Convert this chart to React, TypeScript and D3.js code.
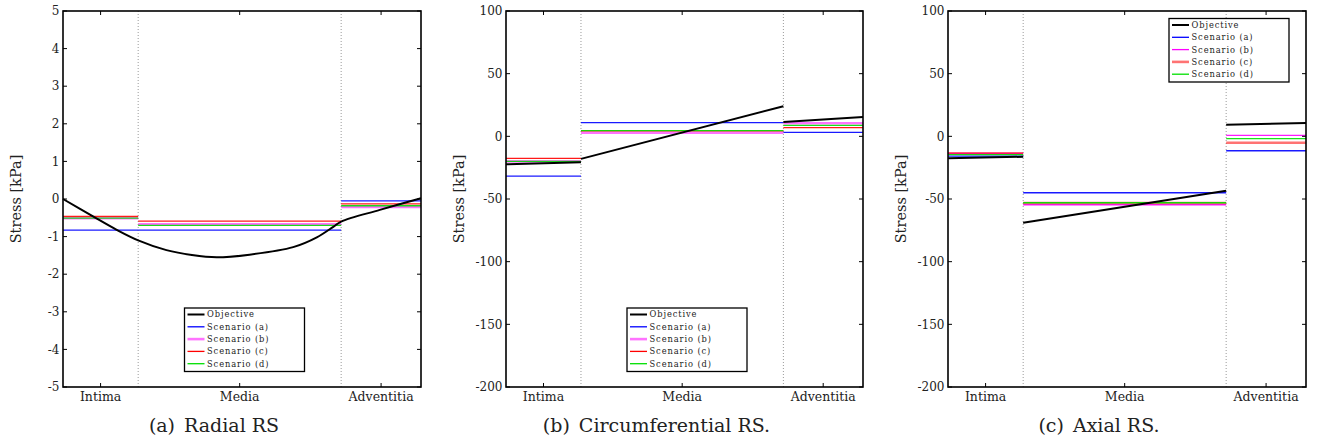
import React from 'react';
import * as d3 from 'd3';

// Wall layers and the normalised radial position of their interfaces
const layerNames = ['Intima', 'Media', 'Adventitia'];
const interfaces = [0, 0.21, 0.777, 1];
const scenarioNames = ['Scenario (a)', 'Scenario (b)', 'Scenario (c)', 'Scenario (d)'];

// Tick labels
const radialTicks = [-5, -4, -3, -2, -1, 0, 1, 2, 3, 4, 5];
const stressTicks = [-200, -150, -100, -50, 0, 50, 100];

// Radial residual stress [kPa]: objective profile (position, stress)
const radialObjective: [number, number][] = [
  [0, 0], [0.085, -0.47], [0.15, -0.82], [0.21, -1.1], [0.289, -1.36], [0.36, -1.49],
  [0.429, -1.55], [0.521, -1.48], [0.643, -1.28], [0.709, -1.02], [0.755, -0.74],
  [0.777, -0.6], [0.885, -0.29], [1, 0.02],
];
// Layer-wise constant scenario values: [intima, media, adventitia]
const radialA = [-0.83, -0.83, -0.05];
const radialB = [-0.51, -0.67, -0.21];
const radialC = [-0.46, -0.59, -0.13];
const radialD = [-0.51, -0.7, -0.18];

// Circumferential residual stress [kPa]
const circObjIntima: [number, number][] = [[0, -22.3], [0.21, -20.7]];
const circObjMedia: [number, number][] = [[0.21, -18.0], [0.777, 24.0]];
const circObjAdventitia: [number, number][] = [[0.777, 11.5], [1, 15.5]];
const circA = [-31.7, 11.0, 3.2];
const circB = [-20.0, 2.9, 10.4];
const circC = [-17.6, 4.3, 6.9];
const circD = [-20.0, 4.5, 8.8];

// Axial residual stress [kPa]
const axialObjIntima: [number, number][] = [[0, -17.4], [0.21, -16.3]];
const axialObjMedia: [number, number][] = [[0.21, -68.9], [0.777, -43.4]];
const axialObjAdventitia: [number, number][] = [[0.777, 9.3], [1, 10.6]];
const axialA = [-15.8, -45.0, -11.5];
const axialB = [-13.6, -54.6, 0.8];
const axialC = [-13.6, -53.2, -5.1];
const axialD = [-14.6, -53.0, -1.9];

const TOP = 11;
const BOTTOM = 387;
const FONT = '"DejaVu Serif", serif';
const scenarioColors = ['#0000ff', '#ff00ff', '#ff0000', '#00e000'];

type Panel = {
  tag: string;
  caption: string;
  left: number;
  right: number;
  yDomain: [number, number];
  ticks: number[];
  objective: [number, number][][];
  scenarios: number[][];
  legend: { x: number; y: number };
  soft: number; // series drawn with a wider, lighter pen
};

const panels: Panel[] = [
  {
    tag: '(a)', caption: 'Radial RS', left: 63, right: 421, yDomain: [-5, 5], ticks: radialTicks,
    objective: [radialObjective], scenarios: [radialA, radialB, radialC, radialD],
    legend: { x: 184.5, y: 308 }, soft: 1,
  },
  {
    tag: '(b)', caption: 'Circumferential RS.', left: 506, right: 863, yDomain: [-200, 100], ticks: stressTicks,
    objective: [circObjIntima, circObjMedia, circObjAdventitia], scenarios: [circA, circB, circC, circD],
    legend: { x: 627, y: 308 }, soft: 1,
  },
  {
    tag: '(c)', caption: 'Axial RS.', left: 948, right: 1306, yDomain: [-200, 100], ticks: stressTicks,
    objective: [axialObjIntima, axialObjMedia, axialObjAdventitia], scenarios: [axialA, axialB, axialC, axialD],
    legend: { x: 1169, y: 18.5 }, soft: 2,
  },
];

function StressPanel({ p }: { p: Panel }) {
  const x = d3.scaleLinear().domain([0, 1]).range([p.left, p.right]);
  const y = d3.scaleLinear().domain(p.yDomain).range([BOTTOM, TOP]);
  const line = d3.line<[number, number]>().x((d) => x(d[0])).y((d) => y(d[1])).curve(d3.curveCatmullRom.alpha(0.5));
  const centers = layerNames.map((_, i) => (interfaces[i] + interfaces[i + 1]) / 2);
  const tickLen = 4;
  const mid = (p.left + p.right) / 2;

  const legendRows = ['Objective', ...scenarioNames];
  const legendColors = ['#000000', ...scenarioColors];

  return (
    <g>
      <rect x={p.left} y={TOP} width={p.right - p.left} height={BOTTOM - TOP} fill="#ffffff" />
      {/* layer interfaces */}
      {interfaces.slice(1, -1).map((t, i) => (
        <line key={'iface' + i} x1={x(t)} x2={x(t)} y1={TOP} y2={BOTTOM}
          stroke="#9a9a9a" strokeWidth={1} strokeDasharray="1,2" />
      ))}
      {/* scenarios: constant value within each layer */}
      {p.scenarios.map((vals, s) =>
        vals.map((v, l) => (
          <line key={`s${s}-${l}`} x1={x(interfaces[l])} x2={x(interfaces[l + 1])} y1={y(v)} y2={y(v)}
            stroke={scenarioColors[s]} strokeWidth={s === p.soft ? 2.6 : 1.3}
            strokeOpacity={s === p.soft ? 0.55 : 0.9} />
        ))
      )}
      {/* objective profile */}
      {p.objective.map((seg, i) => (
        <path key={'obj' + i} d={line(seg) || ''} fill="none" stroke="#000" strokeWidth={2} />
      ))}
      {/* axes box */}
      <rect x={p.left} y={TOP} width={p.right - p.left} height={BOTTOM - TOP} fill="none" stroke="#000" strokeWidth={1.6} />
      {p.ticks.map((t) => (
        <g key={'yt' + t}>
          <line x1={p.left} x2={p.left + tickLen} y1={y(t)} y2={y(t)} stroke="#000" strokeWidth={1} />
          <line x1={p.right} x2={p.right - tickLen} y1={y(t)} y2={y(t)} stroke="#000" strokeWidth={1} />
          <text x={p.left - 3.5} y={y(t)} dy="0.35em" textAnchor="end" fontFamily={FONT} fontSize={12} fill="#222">
            {String(t)}
          </text>
        </g>
      ))}
      {centers.map((c, i) => (
        <g key={'xt' + i}>
          <line x1={x(c)} x2={x(c)} y1={BOTTOM} y2={BOTTOM - tickLen} stroke="#000" strokeWidth={1} />
          <line x1={x(c)} x2={x(c)} y1={TOP} y2={TOP + tickLen} stroke="#000" strokeWidth={1} />
          <text x={x(c)} y={401} textAnchor="middle" fontFamily={FONT} fontSize={12.5} fill="#222">
            {layerNames[i]}
          </text>
        </g>
      ))}
      <text transform={`translate(${p.left - 47.5},${(TOP + BOTTOM) / 2}) rotate(-90)`} textAnchor="middle"
        dy="0.35em" fontFamily={FONT} fontSize={14.5} fill="#222">
        Stress [kPa]
      </text>
      <text x={mid - 28} y={432} textAnchor="middle" fontFamily={FONT} fontSize={19} fill="#222">
        <tspan>{p.tag}</tspan>
        <tspan dx={9}>{p.caption}</tspan>
      </text>
      {/* legend */}
      <g transform={`translate(${p.legend.x},${p.legend.y})`}>
        <rect x={0} y={0} width={120} height={63.5} fill="#fff" stroke="#000" strokeWidth={1.3} />
        {legendRows.map((name, i) => {
          const ry = 6.5 + i * 12.3;
          const soft = i - 1 === p.soft;
          return (
            <g key={name}>
              <line x1={3} x2={20} y1={ry} y2={ry} stroke={legendColors[i]}
                strokeWidth={i === 0 ? 2 : soft ? 2.6 : 1.3} strokeOpacity={soft ? 0.55 : 1} />
              <text x={22.5} y={ry} dy="0.35em" fontFamily={FONT} fontSize={8.3} letterSpacing={0.9} fill="#222">
                {name}
              </text>
            </g>
          );
        })}
      </g>
    </g>
  );
}

export default function App() {
  return (
    <svg width={1317} height={443} viewBox="0 0 1317 443"
      style={{ position: 'absolute', left: 0, top: 0, background: '#fff' }}>
      <rect x={0} y={0} width={1317} height={443} fill="#fff" />
      {panels.map((p) => (
        <StressPanel key={p.tag} p={p} />
      ))}
    </svg>
  );
}
